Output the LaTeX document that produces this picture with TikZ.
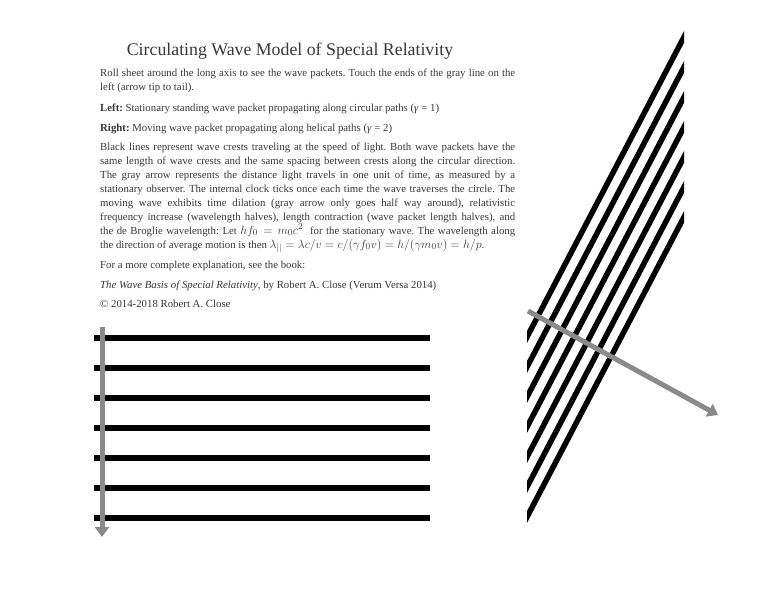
\documentclass[tikz,border=0pt]{standalone}
\usepackage{fontspec}
\setmainfont{Liberation Serif}
\usetikzlibrary{arrows.meta}
\definecolor{pathgray}{HTML}{8A8A8A}
\definecolor{inkgray}{HTML}{383838}
\newcommand{\bigmath}[1]{{\fontsize{13}{14}\selectfont$#1$}}

\begin{document}
\begin{tikzpicture}[x=1pt, y=-1pt,
	crest/.style={line width=5.5pt, black},
	lightpath/.style={line width=5pt, pathgray, -{Triangle[length=10pt, width=14pt]}},
	para/.style={anchor=base west, inner sep=0pt, text width=415pt, align=justify, text=inkgray, font=\fontsize{10.8}{14}\selectfont\frenchspacing}]
		\useasboundingbox (0,0) rectangle (782,605);
		% text block
		\node[anchor=base, inner sep=0pt, text=inkgray, font=\fontsize{17.8}{20}\selectfont] (title) at (290,55) {Circulating Wave Model of Special Relativity};
		\node[para] (roll) at (100,76) {Roll sheet around the long axis to see the wave packets. Touch the ends of the gray line on the\linebreak left (arrow tip to tail).};
		\node[para] (left) at (100,111) {\textbf{Left:} Stationary standing wave packet propagating along circular paths (\textit{γ} = 1)};
		\node[para] (right) at (100,131) {\textbf{Right:} Moving wave packet propagating along helical paths (\textit{γ} = 2)};
		\node[para] (crests) at (100,150) {Black lines represent wave crests traveling at the speed of light. Both wave packets have the\linebreak same length of wave crests and the same spacing between crests along the circular direction.\linebreak The gray arrow represents the distance light travels in one unit of time, as measured by a\linebreak stationary observer. The internal clock ticks once each time the wave traverses the circle. The\linebreak moving wave exhibits time dilation (gray arrow only goes half way around), relativistic\linebreak frequency increase (wavelength halves), length contraction (wave packet length halves), and\linebreak the de Broglie wavelength: Let \bigmath{hf_0 = m_0c^2}\ \ for the stationary wave. The wavelength along\linebreak the direction of average motion is then \bigmath{\lambda_{||} = \lambda c/v = c/(\gamma f_0 v) = h/(\gamma m_0 v) = h/p}.};
		\node[para] (book) at (100,268) {For a more complete explanation, see the book:};
		\node[para] (cite) at (100,288) {\textit{The Wave Basis of Special Relativity}, by Robert A. Close (Verum Versa 2014)};
		\node[para] (copy) at (100,307) {© 2014-2018 Robert A. Close};
		% stationary packet
		\draw[crest] (94,338) -- (430,338);
		\draw[crest] (94,368) -- (430,368);
		\draw[crest] (94,398) -- (430,398);
		\draw[crest] (94,428) -- (430,428);
		\draw[crest] (94,458) -- (430,458);
		\draw[crest] (94,488) -- (430,488);
		\draw[crest] (94,518) -- (430,518);
		\coordinate (stillTail) at (102,327);
		\coordinate (stillTip) at (102,537);
		\draw[lightpath] (stillTail) -- (stillTip);
		% moving packet
		\begin{scope}
			\clip (527,0) rectangle (684,605);
			\draw[crest] (517,356.1) -- (694,17.9);
			\draw[crest] (517,386.1) -- (694,47.9);
			\draw[crest] (517,416.1) -- (694,77.9);
			\draw[crest] (517,446.1) -- (694,107.9);
			\draw[crest] (517,476.1) -- (694,137.9);
			\draw[crest] (517,506.1) -- (694,167.9);
			\draw[crest] (517,536.1) -- (694,197.9);
		\end{scope}
		\coordinate (movingTail) at (528,311);
		\coordinate (movingTip) at (718,415);
		\draw[lightpath] (movingTail) -- (movingTip);
\end{tikzpicture}
\end{document}
